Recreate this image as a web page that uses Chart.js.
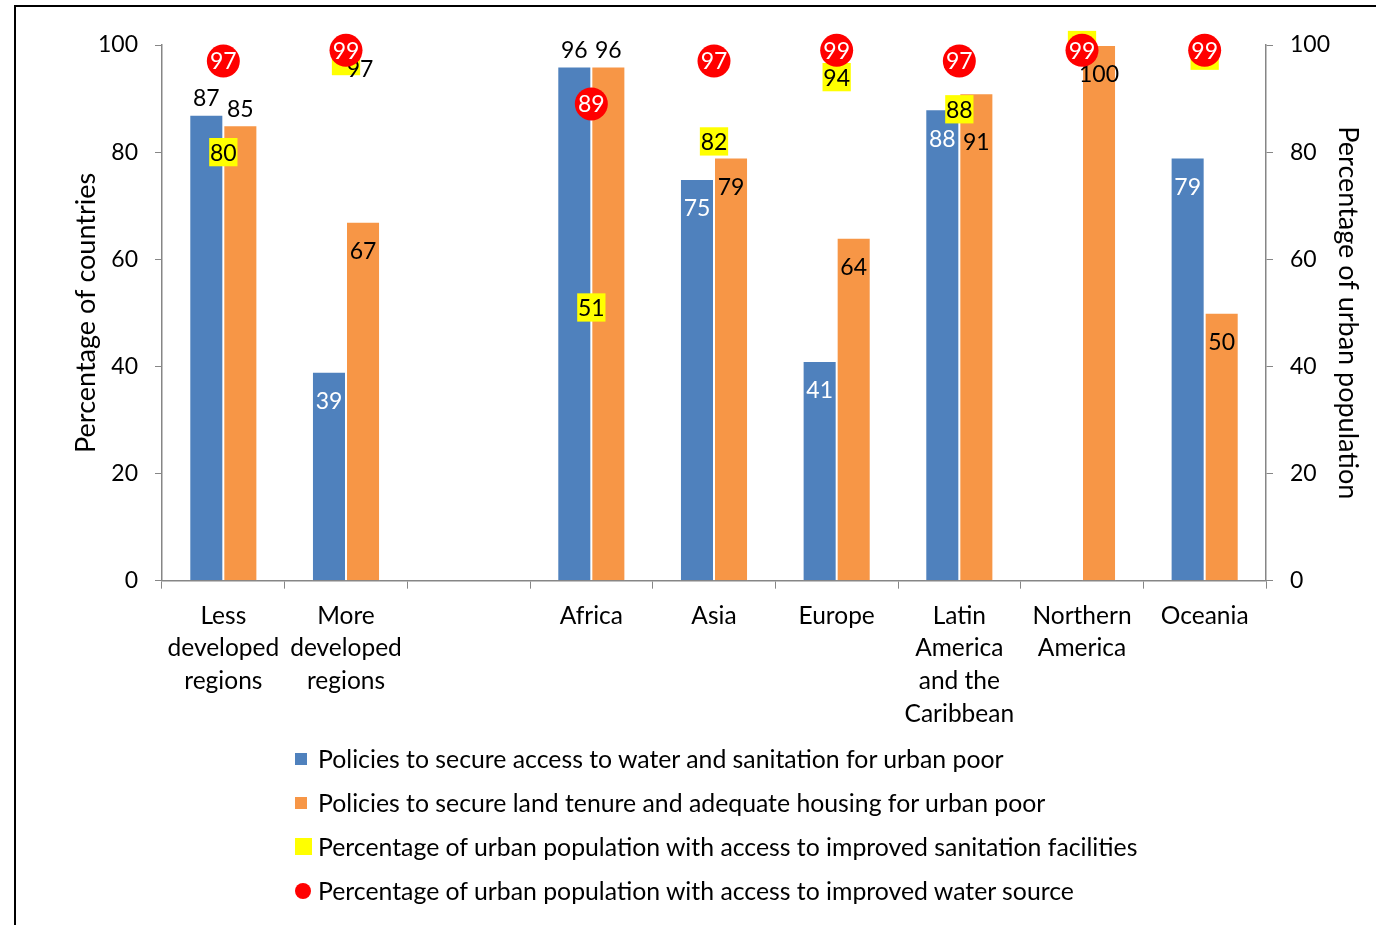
<!DOCTYPE html>
<html>
<head>
<meta charset="utf-8">
<script src="https://cdn.jsdelivr.net/npm/chart.js@4.4.1/dist/chart.umd.min.js"></script>
<style>
  html, body { margin:0; padding:0; background:#fff; overflow:hidden; }
  #wrap { position:absolute; left:0; top:0; width:1376px; height:925px; }
  #frame { position:absolute; left:14px; top:5px; width:1500px; height:1000px; border-top:2px solid #000; border-left:2px solid #000; pointer-events:none; }
  #legend { position:absolute; left:295px; top:737px; font-family:Lato, sans-serif; font-size:24.8px; color:#000; }
  .item { position:relative; height:44px; line-height:44px; padding-left:23px; white-space:nowrap; }
  .mk { position:absolute; left:0; }
</style>
</head>
<body>
<div id="wrap"><canvas id="c" width="1376" height="925"></canvas></div>
<div id="frame"></div>
<div id="legend">
  <div class="item"><span class="mk" style="top:16px;width:12px;height:12px;background:#4F81BD"></span>Policies to secure access to water and sanitation for urban poor</div>
  <div class="item"><span class="mk" style="top:16px;width:12px;height:12px;background:#F79646"></span>Policies to secure land tenure and adequate housing for urban poor</div>
  <div class="item"><span class="mk" style="top:13px;width:17px;height:17px;background:#FFFF00"></span>Percentage of urban population with access to improved sanitation facilities</div>
  <div class="item"><span class="mk" style="top:14px;width:16px;height:16px;border-radius:50%;background:#FF0000"></span>Percentage of urban population with access to improved water source</div>
</div>
<script>
const categories = [["Less","developed","regions"],["More","developed","regions"],"",["Africa"],["Asia"],["Europe"],["Latin","America","and the","Caribbean"],["Northern","America"],["Oceania"]];
const waterPolicy = [87, 39, null, 96, 75, 41, 88, null, 79];
const landPolicy = [85, 67, null, 96, 79, 64, 91, 100, 50];
const sanitationAccess = [80, 97, null, 51, 82, 94, 88, 100, 98];
const waterSourceAccess = [97, 99, null, 89, 97, 99, 97, 99, 99];
const yTicks = [0, 20, 40, 60, 80, 100];

const FONT = 'Lato, sans-serif';

const labelPlugin = {
  id: 'valueLabels',
  afterDatasetDraw(chart, args) {
    const ds = chart.data.datasets[args.index];
    const cfg = ds.labelCfg;
    if (!cfg) return;
    const ctx = chart.ctx;
    ctx.save();
    ctx.font = '23px ' + FONT;
    ctx.textAlign = 'center';
    ctx.textBaseline = 'middle';
    args.meta.data.forEach((el, j) => {
      const v = ds.data[j];
      if (v == null) return;
      if (cfg.hide && cfg.hide.includes(j)) return;
      let x = el.x, y = el.y;
      let color = cfg.color;
      if (cfg.bar) {
        if (cfg.outside && cfg.outside.includes(j)) {
          y = el.y - 17; color = '#000';
        } else {
          y = el.y + 29; color = cfg.insideColor;
        }
      }
      const n = cfg.nudge && cfg.nudge[j];
      if (n) { x += n[0]; y += n[1]; }
      ctx.fillStyle = color;
      ctx.fillText(String(v), x, y + 1);
    });
    ctx.restore();
  }
};

new Chart(document.getElementById('c'), {
  data: {
    labels: categories,
    datasets: [
      {
        type: 'bar', label: 'Policies to secure access to water and sanitation for urban poor',
        data: waterPolicy, yAxisID: 'y', order: 2,
        backgroundColor: '#4F81BD', borderColor: '#ffffff', borderWidth: 1,
        labelCfg: { bar: true, outside: [0, 3], insideColor: '#fff' }
      },
      {
        type: 'bar', label: 'Policies to secure land tenure and adequate housing for urban poor',
        data: landPolicy, yAxisID: 'y', order: 3,
        backgroundColor: '#F79646', borderColor: '#ffffff', borderWidth: 1,
        labelCfg: { bar: true, outside: [0, 3], insideColor: '#000', nudge: { 6: [0, 19] } }
      },
      {
        type: 'line', label: 'Percentage of urban population with access to improved sanitation facilities',
        data: sanitationAccess, yAxisID: 'y2', showLine: false, clip: false, order: 1,
        pointStyle: 'rect', pointRadius: 20, pointHoverRadius: 20,
        pointBackgroundColor: '#FFFF00', pointBorderColor: '#FFFF00', pointBorderWidth: 0,
        labelCfg: { color: '#000', hide: [7, 8], nudge: { 1: [14, 8] } }
      },
      {
        type: 'line', label: 'Percentage of urban population with access to improved water source',
        data: waterSourceAccess, yAxisID: 'y2', showLine: false, clip: false, order: 0,
        pointStyle: 'circle', pointRadius: 16.5, pointHoverRadius: 16.5,
        pointBackgroundColor: '#FF0000', pointBorderColor: '#FF0000', pointBorderWidth: 0,
        labelCfg: { color: '#fff' }
      }
    ]
  },
  options: {
    responsive: false,
    animation: false,
    events: [],
    datasets: { bar: { barPercentage: 1, categoryPercentage: 0.555, grouped: true } },
    layout: { padding: { left: 73, right: 15, top: 45, bottom: 184 } },
    plugins: { legend: { display: false }, tooltip: { enabled: false } },
    scales: {
      x: {
        offset: true,
        grid: { offset: true, drawOnChartArea: false, color: '#868686', tickLength: 8, tickColor: '#868686' },
        border: { color: '#868686', width: 1.5 },
        ticks: { color: '#000', font: { family: FONT, size: 24.5, lineHeight: 1.33 }, padding: 11, maxRotation: 0, autoSkip: false }
      },
      y: {
        position: 'left', min: 0, max: 100,
        afterBuildTicks: (s) => { s.ticks = yTicks.map(v => ({ value: v })); },
        afterFit: (s) => { s.width = 89; },
        grid: { drawOnChartArea: false, tickLength: 7, tickColor: '#868686' },
        border: { color: '#868686', width: 1.5 },
        ticks: { color: '#000', font: { family: FONT, size: 23 }, padding: 17 },
        title: { display: true, text: 'Percentage of countries', color: '#000', font: { family: FONT, size: 27, lineHeight: 1.0 }, padding: { top: 0, bottom: 0 } }
      },
      y2: {
        position: 'right', min: 0, max: 100,
        afterBuildTicks: (s) => { s.ticks = yTicks.map(v => ({ value: v })); },
        afterFit: (s) => { s.width = 95; },
        grid: { drawOnChartArea: false, tickLength: 7, tickColor: '#868686' },
        border: { color: '#868686', width: 1.5 },
        ticks: { color: '#000', font: { family: FONT, size: 23 }, padding: 17 },
        title: { display: true, text: 'Percentage of urban population', color: '#000', font: { family: FONT, size: 27, lineHeight: 1.0 }, padding: { top: 0, bottom: 0 } }
      }
    }
  },
  plugins: [labelPlugin]
});
</script>
</body>
</html>
